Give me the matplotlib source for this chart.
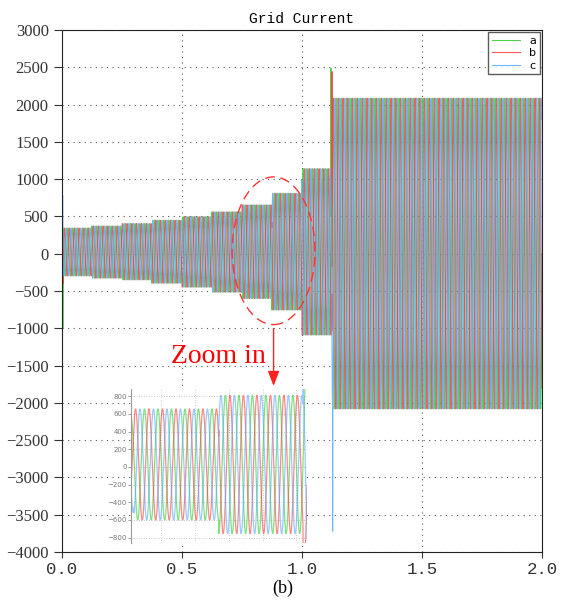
import numpy as np
import matplotlib
matplotlib.use("Agg")
import matplotlib.pyplot as plt
from matplotlib.patches import Ellipse

# step times (s) and envelope of the three phase currents in each step
step_t = [0.0, 0.125, 0.25, 0.375, 0.5, 0.625, 0.75, 0.875, 1.0, 1.125, 2.0]
peak_pos = [345, 372, 405, 450, 497, 562, 655, 810, 1140, 2085]
peak_neg = [-298, -328, -351, -396, -449, -516, -600, -755, -1090, -2080]
freq = 50.0

# transients (time, value)
spikes = {
    "a": [(0.004, -1000), (1.121, 2490)],
    "b": [(0.005, -400), (1.126, 2440)],
    "c": [(0.003, 780), (1.128, -3720)],
}
phases = ["a", "b", "c"]
colors = {"a": "#2ecc2e", "b": "#ff3b3b", "c": "#55a8ff"}
shift = {"a": 0.0, "b": -2 * np.pi / 3, "c": 2 * np.pi / 3}

t = np.linspace(0, 2.0, 40001)
idx = np.clip(np.searchsorted(step_t, t, side="right") - 1, 0, len(peak_pos) - 1)
amp = (np.array(peak_pos) - np.array(peak_neg))[idx] / 2
off = (np.array(peak_pos) + np.array(peak_neg))[idx] / 2


def phase_signal(p):
    y = off + amp * np.sin(2 * np.pi * freq * t + shift[p])
    tt = t.copy()
    for ts, v in spikes[p]:
        k = np.searchsorted(tt, ts)
        tt = np.insert(tt, k, ts)
        y = np.insert(y, k, v)
    return tt, y


fig = plt.figure(figsize=(5.68, 6.06), dpi=100)
ax = fig.add_axes([0.109, 0.089, 0.845, 0.8615])

for p in phases:
    tt, y = phase_signal(p)
    ax.plot(tt, y, color=colors[p], lw=0.8, alpha=0.85, label=p)

ax.set_xlim(0, 2.0)
ax.set_ylim(-4000, 3000)
ax.set_xticks([0, 0.5, 1.0, 1.5, 2.0])
ax.set_xticklabels(["0.0", "0.5", "1.0", "1.5", "2.0"], family="Liberation Mono", fontsize=12.5)
ax.set_yticks(np.arange(-4000, 3001, 500))
for lab in ax.get_yticklabels():
    lab.set_family("Liberation Serif")
    lab.set_fontsize(12)
ax.tick_params(axis="y", direction="out", length=6, colors="#333333")
ax.tick_params(axis="x", direction="out", length=4, colors="#333333")
ax.grid(True, color="#555555", linestyle=(0, (1, 4)), linewidth=0.8)
for s in ax.spines.values():
    s.set_color("#222222")
ax.set_title("Grid Current", family="Liberation Mono", fontsize=10.5, pad=5)

leg = ax.legend(loc="upper right", fontsize=8, handlelength=2.6, labelspacing=0.25,
                borderaxespad=0.2, fancybox=False, edgecolor="#333333",
                borderpad=0.3)
leg.get_frame().set_linewidth(1.0)

# zoom marker
ax.add_patch(Ellipse((0.882, 40), 0.345, 1980, fill=False, edgecolor="#ff3333",
                     linestyle=(0, (7, 4)), linewidth=1.0, zorder=5))
ax.annotate("", xy=(0.882, -1810), xytext=(0.882, -965),
            arrowprops=dict(arrowstyle="-|>,head_width=0.35,head_length=0.9",
                            color="#ff2222", lw=1.0), zorder=6)
ax.text(0.848, -1380, "Zoom in", color="#ff0000", family="Liberation Serif",
        fontsize=20, ha="right", va="center", zorder=6)

# inset with the zoomed waveform
ins = fig.add_axes([0.2306, 0.104, 0.31, 0.254])
for p in phases:
    tt, y = phase_signal(p)
    k = (tt >= 0.74) & (tt <= 1.006)
    ins.plot(tt[k], y[k], color=colors[p], lw=0.9, alpha=0.6)
ins.set_xlim(0.745, 1.006)
ins.set_ylim(-860, 880)
ins.set_yticks(np.arange(-800, 801, 200))
ins.set_xticks(np.linspace(0.79, 0.99, 5))
ins.set_xticklabels([])
ins.tick_params(axis="y", labelsize=5, colors="#777777", length=2, width=0.5, pad=1)
ins.tick_params(axis="x", length=0)
ins.grid(True, color="#bbbbbb", linestyle=(0, (1, 2)), linewidth=0.6)
for name, s in ins.spines.items():
    if name == "left":
        s.set_color("#999999")
        s.set_linewidth(0.8)
    else:
        s.set_visible(False)

fig.text(0.498, 0.022, "(b)", family="Liberation Serif", fontsize=13, ha="center")

fig.savefig("out.png", dpi=100)
